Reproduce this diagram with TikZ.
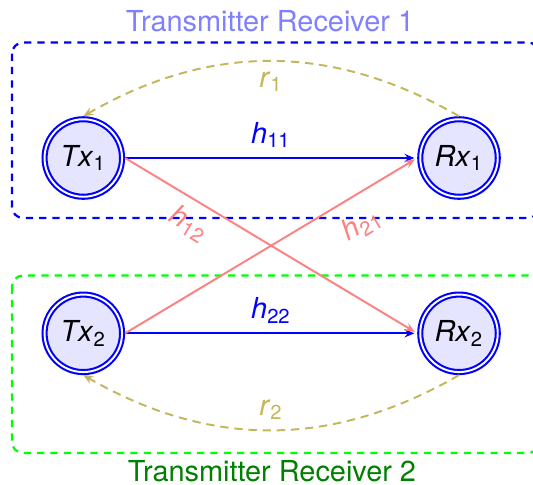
\documentclass[tikz,border=0pt]{standalone}
\usepackage{fontspec}
\setmainfont{TeX Gyre Heros}
\usetikzlibrary{arrows.meta}
\definecolor{feedback}{RGB}{196,182,90}
% italic symbol with an upright subscript, e.g. Tx_1, h_12
\newcommand\chan[2]{\textit{#1}\textsubscript{#2}}

\begin{document}
\begin{tikzpicture}[x=0.36pt,y=-0.36pt,
  every node/.style={font=\fontsize{10.4}{12.5}\selectfont},
  terminal/.style={circle, draw=blue, double, line width=0.75pt,
    double distance=0.7pt, fill=blue!10, minimum size=27.9pt,
    inner sep=0pt, outer sep=1.1pt},
  link/.style={line width=0.7pt,
    -{Stealth[length=3.6pt,width=3pt,inset=1.3pt]}, shorten >=1pt},
  direct/.style={link, draw=blue, text=blue},
  cross/.style={link, draw=red!50, text=red!50},
  loopback/.style={link, draw=feedback, text=feedback,
    dash pattern=on 3pt off 2.1pt, shorten >=0pt},
  group/.style={dash pattern=on 2.6pt off 2.2pt, line width=0.8pt,
    rounded corners=4pt}
]
\clip (0,0) rectangle (533,484);

% pair enclosures
\draw[group, blue]  (12,42.5) rectangle (539,218);
\draw[group, green] (12,275.5) rectangle (539,453);
\node[anchor=base, text=blue!50]        (title1) at (270,31)  {Transmitter Receiver 1};
\node[anchor=base, text=green!50!black] (title2) at (272,481) {Transmitter Receiver 2};

% terminals
\node[terminal] (tx1) at (83.3,158)  {\chan{Tx}{1}};
\node[terminal] (rx1) at (459,158)   {\chan{Rx}{1}};
\node[terminal] (tx2) at (83.3,333.3){\chan{Tx}{2}};
\node[terminal] (rx2) at (459,333.3) {\chan{Rx}{2}};

% direct channels
\draw[direct] (tx1) -- node[above] {\chan{h}{11}} (rx1);
\draw[direct] (tx2) -- node[above] {\chan{h}{22}} (rx2);

% cross channels
\draw[cross] (tx1.east) -- node[sloped, below, pos=0.26] {\chan{h}{12}} (rx2.west);
\draw[cross] (tx2.east) -- node[sloped, below=2pt, pos=0.76] {\chan{h}{21}} (rx1.west);

% loop-back links
\draw[loopback] (rx1.north) to[bend right=30] node[below] {\chan{r}{1}} (tx1.north);
\draw[loopback] (rx2.south) to[bend left=30]  node[above] {\chan{r}{2}} (tx2.south);
\end{tikzpicture}
\end{document}
